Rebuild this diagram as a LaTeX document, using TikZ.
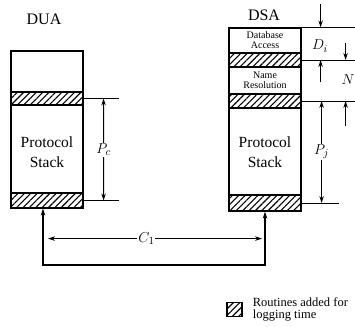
\documentclass[tikz,border=0pt]{standalone}
\usepackage{fontspec}
\setmainfont{Liberation Serif}
\usetikzlibrary{arrows.meta,patterns.meta,calc}

\begin{document}
\begin{tikzpicture}[x=1pt, y=-1pt, >={Stealth[length=7pt,width=4.5pt]},
  stackbox/.style={draw, line width=1.2pt, minimum width=72pt, inner sep=0pt},
  band/.style={draw, line width=1.2pt, minimum width=72pt, inner sep=0pt,
    pattern={Lines[angle=45,distance=4.5pt,line width=1.1pt]}},
  dim/.style={line width=0.9pt},
  conn/.style={line width=1.8pt},
  bigtext/.style={font=\fontsize{15.5}{19.5}\selectfont, align=center},
  smalltext/.style={font=\fontsize{10}{9.5}\selectfont, align=center},
  dimlabel/.style={font=\fontsize{15}{15}\selectfont, fill=white, inner sep=1pt}]
  \useasboundingbox (0,0) rectangle (355,326);
  \node[font=\fontsize{16}{16}\selectfont] (dualabel) at (44,19) {DUA};
  \node[stackbox, minimum height=157pt] (dua) at (47,129.5) {};
  \node[band, minimum height=13pt] (duaA) at (47,98.5) {};
  \node[band, minimum height=15pt] (duaB) at (47,200.5) {};
  \node[bigtext] (duaps) at (47,152) {Protocol\\Stack};
  \draw[dim] (duaA.east) -- ++(35,0);
  \draw[dim] (duaB.east) -- ++(35,0);
  \draw[dim, <->] ($(duaA.east)+(20,0)$) -- ($(duaB.east)+(20,0)$)
    node[midway, dimlabel]{$P_c$};
  \node[font=\fontsize{16}{16}\selectfont] (dsalabel) at (264,15) {DSA};
  \node[stackbox, minimum height=183pt] (dsa) at (265,119.5) {};
  \node[band, minimum height=14pt] (dsaA) at (265,60) {};
  \node[band, minimum height=14pt] (dsaB) at (265,101) {};
  \node[band, minimum height=16pt] (dsaC) at (265,203) {};
  \node[smalltext] (dbacc) at (265,40) {Database\\Access};
  \node[smalltext] (nameres) at (265,80.5) {Name\\Resolution};
  \node[bigtext] (dsaps) at (265,152) {Protocol\\Stack};
  \draw[dim] (dsa.north east) -- ++(54,0);
  \draw[dim] (dsaA.east) -- ++(54,0);
  \draw[dim] (dsaB.east) -- ++(54,0);
  \draw[dim] (dsaC.east) -- ++(37,0);
  \draw[dim, ->] ($(dsa.north east)+(19,-23)$) -- ($(dsa.north east)+(19,0)$);
  \draw[dim, ->] ($(dsaA.east)+(19,22)$) -- ($(dsaA.east)+(19,0)$);
  \node[dimlabel, fill=none] (di) at (320,46) {$D_i$};
  \draw[dim, ->] ($(dsaA.east)+(44,-17)$) -- ($(dsaA.east)+(44,0)$);
  \draw[dim, ->] ($(dsaB.east)+(44,25)$) -- ($(dsaB.east)+(44,0)$);
  \node[dimlabel, fill=none] (n) at (348,80) {$N$};
  \draw[dim, <->] ($(dsaB.east)+(20,0)$) -- ($(dsaC.east)+(20,0)$)
    node[midway, dimlabel]{$P_j$};
  \draw[conn, <->] ($(dua.south)+(-4,0)$) -- ++(0,56) -| (dsa.south);
  \draw[dim, <->] ($(dua.south)+(1,30)$) -- ($(dsa.south)+(-3,27)$)
    node[pos=0.46, dimlabel]{$C_1$};
  \node[band, minimum width=15pt, minimum height=14pt] (key) at (234.5,309.5) {};
  \node[anchor=west, align=left, font=\fontsize{12.5}{12.5}\selectfont, inner sep=0pt]
    (keytext) at ($(key.east)+(10,0)$) {Routines added for\\logging time};
\end{tikzpicture}
\end{document}
